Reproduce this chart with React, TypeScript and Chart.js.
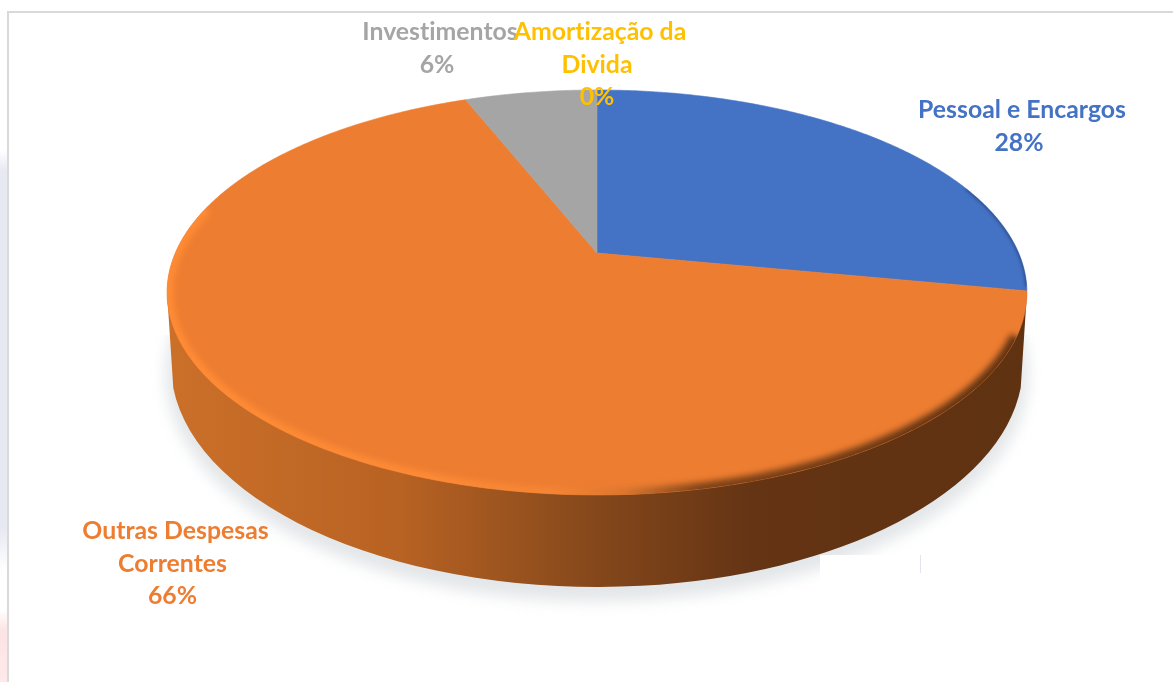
import React, { useEffect, useRef } from "react";
import { Chart, registerables } from "chart.js";

Chart.register(...registerables);

const categories = ["Pessoal e Encargos", "Outras Despesas Correntes", "Investimentos", "Amortização da Divida"];
const values = [28, 66, 6, 0];
const sliceColors = ["#4472C4", "#ED7D31", "#A5A5A5", "#FFC000"];
const labelLines = [["Pessoal e Encargos"], ["Outras Despesas", "Correntes"], ["Investimentos"], ["Amortização da", "Divida"]];
const labelAnchors = [
  { x: 1022, y: 110 },
  { x: 175.5, y: 531 },
  { x: 440, y: 32 },
  { x: 600, y: 32 },
];

const W = 1173;
const H = 682;
const CX = 597;
const CY = 253;
const R = 163;
const SCALE_X = 2.587;
const SCALE_Y = 1.195;
const PERSPECTIVE = -0.195;
const LINE_H = 32.7;
const FONT = 'bold 24.8px Lato, "Open Sans", sans-serif';

function project(arc: any, a: number) {
  const u = Math.cos(a);
  const v = Math.sin(a);
  const d = 1 + PERSPECTIVE * v;
  return { x: arc.x + (arc.outerRadius * SCALE_X * u) / d, y: arc.y + (arc.outerRadius * SCALE_Y * v) / d };
}

function traceRim(ctx: CanvasRenderingContext2D, arc: any, a0: number, a1: number, join: boolean) {
  const n = Math.max(2, Math.ceil(Math.abs(a1 - a0) * 90));
  for (let i = 0; i <= n; i++) {
    const p = project(arc, a0 + ((a1 - a0) * i) / n);
    if (i === 0 && !join) ctx.moveTo(p.x, p.y);
    else ctx.lineTo(p.x, p.y);
  }
}

const pie3d = {
  id: "pie3d",
  beforeDraw(chart: any) {
    const ctx: CanvasRenderingContext2D = chart.ctx;
    ctx.save();
    ctx.fillStyle = "#FFFFFF";
    ctx.fillRect(0, 0, W, H);
    const blue = ctx.createLinearGradient(0, 150, 0, 570);
    blue.addColorStop(0, "rgba(228,232,242,0)");
    blue.addColorStop(0.05, "#E6E9F2");
    blue.addColorStop(0.9, "#E6E9F2");
    blue.addColorStop(1, "rgba(230,233,242,0)");
    ctx.fillStyle = blue;
    ctx.fillRect(0, 150, 7, 420);
    const pink = ctx.createLinearGradient(0, 610, 0, 682);
    pink.addColorStop(0, "rgba(253,224,224,0)");
    pink.addColorStop(0.3, "#FDE3E3");
    pink.addColorStop(1, "#FDEAEA");
    ctx.fillStyle = pink;
    ctx.fillRect(0, 610, 7, 72);
    ctx.strokeStyle = "#D9D9D9";
    ctx.lineWidth = 2;
    ctx.beginPath();
    ctx.moveTo(W, 12);
    ctx.lineTo(8, 12);
    ctx.lineTo(8, H);
    ctx.stroke();
    ctx.restore();
  },
  beforeDatasetsDraw(chart: any) {
    const ctx: CanvasRenderingContext2D = chart.ctx;
    const cx = chart.getDatasetMeta(0).data[0].x;
    // soft ground shadow
    ctx.save();
    ctx.beginPath();
    ctx.rect(0, 335, W, H - 335);
    ctx.clip();
    ctx.filter = "blur(7px)";
    ctx.fillStyle = "rgba(190,197,203,0.42)";
    ctx.beginPath();
    ctx.ellipse(cx, 374, 432, 228, 0, 0, Math.PI * 2);
    ctx.fill();
    ctx.restore();
    // scan artefact: the shadow is cut off here in the source
    ctx.fillStyle = "#FFFFFF";
    ctx.fillRect(820, 555, 100, 60);
    ctx.fillStyle = "#E4E4F0";
    ctx.fillRect(920, 555, 1, 18);
    // side wall
    const g = ctx.createLinearGradient(168, 0, 1028, 0);
    g.addColorStop(0, "#CB7029");
    g.addColorStop(0.27, "#B86223");
    g.addColorStop(0.42, "#96511E");
    g.addColorStop(0.5, "#84471B");
    g.addColorStop(0.68, "#643414");
    g.addColorStop(1, "#5F3212");
    ctx.save();
    ctx.fillStyle = g;
    ctx.beginPath();
    ctx.moveTo(cx - 430, 292);
    ctx.ellipse(cx, 365, 426, 222, 0, Math.PI - 0.104, 0.104, true);
    ctx.lineTo(cx + 430, 292);
    ctx.closePath();
    ctx.fill();
    ctx.restore();
  },
  beforeDatasetDraw(chart: any) {
    const ctx: CanvasRenderingContext2D = chart.ctx;
    const arcs = chart.getDatasetMeta(0).data;
    ctx.save();
    arcs.forEach((arc: any) => {
      if (arc.endAngle - arc.startAngle < 1e-4) return;
      ctx.fillStyle = arc.options.backgroundColor;
      ctx.strokeStyle = arc.options.backgroundColor;
      ctx.lineWidth = 0.6;
      ctx.beginPath();
      ctx.moveTo(arc.x, arc.y);
      traceRim(ctx, arc, arc.startAngle, arc.endAngle, true);
      ctx.closePath();
      ctx.fill();
      ctx.stroke();
    });
    // bevel: bright on the left of the front rim, dark on the right
    const first = arcs[0];
    ctx.beginPath();
    traceRim(ctx, first, -Math.PI, Math.PI, false);
    ctx.closePath();
    ctx.clip();
    const bevel = ctx.createLinearGradient(168, 0, 1028, 0);
    bevel.addColorStop(0, "#FF8B35");
    bevel.addColorStop(0.3, "#FC8A36");
    bevel.addColorStop(0.45, "#F58534");
    bevel.addColorStop(0.53, "#D9762F");
    bevel.addColorStop(0.62, "#7D4218");
    bevel.addColorStop(1, "#5F3212");
    ctx.filter = "blur(3px)";
    ctx.strokeStyle = bevel;
    ctx.lineWidth = 13;
    ctx.beginPath();
    traceRim(ctx, first, arcs[0].endAngle + 0.22, arcs[1].endAngle - 0.95, false);
    ctx.stroke();
    ctx.filter = "blur(1.5px)";
    ctx.strokeStyle = "#2E4F8C";
    ctx.lineWidth = 3;
    ctx.beginPath();
    traceRim(ctx, first, arcs[0].endAngle - 0.55, arcs[0].endAngle - 0.02, false);
    ctx.stroke();
    ctx.restore();
    return false;
  },
  afterDatasetsDraw(chart: any) {
    const ctx: CanvasRenderingContext2D = chart.ctx;
    const data: number[] = chart.data.datasets[0].data;
    const total = data.reduce((s, v) => s + v, 0);
    ctx.save();
    ctx.font = FONT;
    (ctx as any).letterSpacing = "0.01px";
    ctx.textAlign = "center";
    ctx.textBaseline = "middle";
    data.forEach((v, i) => {
      const lines = [...labelLines[i], `${Math.round((v / total) * 100)}%`];
      ctx.fillStyle = sliceColors[i];
      lines.forEach((t, k) => ctx.fillText(t, labelAnchors[i].x - (k === 0 ? 0 : 3), labelAnchors[i].y + k * LINE_H));
    });
    ctx.restore();
  },
};

export default function App() {
  const ref = useRef<HTMLCanvasElement | null>(null);
  useEffect(() => {
    const chart = new Chart(ref.current as HTMLCanvasElement, {
      type: "pie",
      data: {
        labels: categories,
        datasets: [{ data: values, backgroundColor: sliceColors, borderWidth: 0 }],
      },
      options: {
        responsive: false,
        animation: false,
        layout: { padding: { left: CX - R, right: W - CX - R, top: CY - R, bottom: H - CY - R } },
        plugins: { legend: { display: false }, tooltip: { enabled: false } },
      },
      plugins: [pie3d],
    } as any);
    return () => chart.destroy();
  }, []);
  return (
    <div style={{ position: "fixed", left: 0, top: 0, width: W, height: H, background: "#fff" }}>
      <canvas ref={ref} width={W} height={H} style={{ display: "block" }} />
    </div>
  );
}
